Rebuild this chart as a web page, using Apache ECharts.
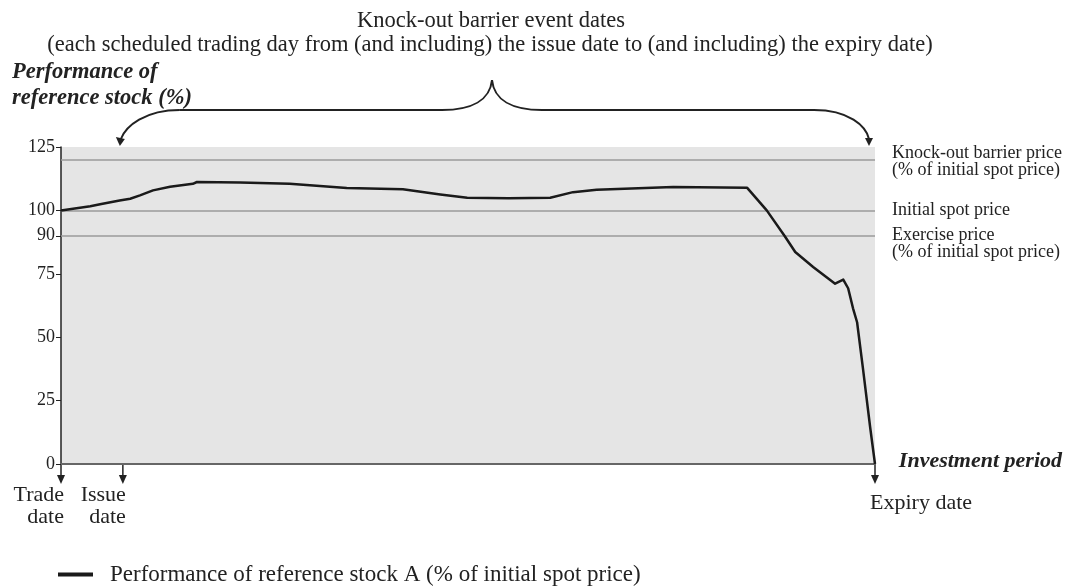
<!DOCTYPE html>
<html><head><meta charset="utf-8">
<script src="https://cdn.jsdelivr.net/npm/echarts@6/dist/echarts.min.js"></script>
<style>html,body{margin:0;padding:0;background:#fff}#c{width:1068px;height:586px}</style>
</head><body><div id="c"></div>
<script>
// Investment period position (0 = trade date, 100 = expiry date)
const dayIdx = [0, 3.6, 4.8, 7.2, 8.5, 9.7, 11.3, 13.4, 16.2, 16.7, 22, 28.1, 35.1, 42.0, 46.6, 49.9, 55, 60.1, 62.9, 65.8, 75.2, 84.3, 86.7, 88.9, 90.2, 92.4, 95.1, 96.1, 96.7, 97.3, 97.8, 98.5, 99.4, 100];
// Performance of reference stock A (% of initial spot price)
const perfA = [100.0, 101.6, 102.4, 103.9, 104.6, 105.9, 107.9, 109.3, 110.5, 111.2, 111.0, 110.5, 108.8, 108.3, 106.3, 105.0, 104.8, 105.0, 107.2, 108.1, 109.2, 108.9, 100.0, 89.9, 83.6, 77.7, 71.1, 72.7, 69.3, 61.4, 55.9, 38.2, 14.6, 0];
const yTicks = [0, 25, 50, 75, 90, 100, 120, 125];
const refLevels = [120, 100, 90];
const refLabels = ['Knock-out barrier price\n(% of initial spot price)', 'Initial spot price', 'Exercise price\n(% of initial spot price)'];
const dateMarks = [0, 7.6, 100];
const dateLabels = ['Trade\ndate', 'Issue\ndate', 'Expiry date'];
const seriesName = 'Performance of reference stock A (% of initial spot price)';

const FONT = 'Liberation Serif';
const chart = echarts.init(document.getElementById('c'), null, {renderer: 'canvas'});
const refOffsets = [[0, 2], [0, 0], [0, 8]];

chart.setOption({
  animation: false,
  backgroundColor: '#fff',
  textStyle: {fontFamily: FONT},
  grid: {left: 61, right: 193, top: 147, bottom: 122, show: true, backgroundColor: '#e5e5e5', borderWidth: 0},
  xAxis: {
    type: 'value', min: 0, max: 100,
    axisLine: {show: true, lineStyle: {color: '#666', width: 2}},
    axisTick: {show: false}, axisLabel: {show: false}, splitLine: {show: false}
  },
  yAxis: {
    type: 'value', min: 0, max: 125, interval: 5,
    axisLine: {show: true, lineStyle: {color: '#222', width: 1.5}},
    axisTick: {show: true, length: 5, lineStyle: {color: '#222'}, customValues: yTicks},
    axisLabel: {color: '#222', fontSize: 18, fontFamily: FONT, margin: 6, customValues: yTicks, showMaxLabel: true, showMinLabel: true, hideOverlap: false},
    splitLine: {show: false}
  },
  legend: {
    left: 58, top: 563, padding: 0, icon: 'rect', itemWidth: 35, itemHeight: 4, itemGap: 12,
    textStyle: {fontFamily: FONT, fontSize: 23, color: '#222', padding: [0, 0, 0, 12]},
    data: [seriesName]
  },
  series: [{
    name: seriesName, type: 'line', showSymbol: false, symbol: 'none',
    smooth: false,
    lineStyle: {color: '#1a1a1a', width: 2.5, join: 'round'}, itemStyle: {color: '#1a1a1a'},
    data: dayIdx.map((d, i) => [d, perfA[i]]),
    z: 5,
    markLine: {
      silent: true, symbol: 'none', z: 2,
      lineStyle: {color: '#9a9a9a', width: 1.5, type: 'solid'},
      label: {position: 'end', distance: 17, color: '#222', fontFamily: FONT, fontSize: 18, lineHeight: 17, align: 'left'},
      data: refLevels.map((v, i) => ({yAxis: v, label: {formatter: refLabels[i], offset: refOffsets[i]}}))
    }
  }]
});

function drawDecor() {
  const p = (x, y) => chart.convertToPixel({gridIndex: 0}, [x, y]);
  const g = [];
  const y0 = p(0, 0)[1];
  const yTop = p(0, 125)[1];
  const stroke = {stroke: '#222', lineWidth: 2, fill: null};
  // date arrows under the x axis
  dateMarks.forEach((d, i) => {
    const x = p(d, 0)[0];
    g.push({type: 'line', shape: {x1: x, y1: y0, x2: x, y2: y0 + 12}, style: {stroke: '#222', lineWidth: 1.5}});
    g.push({type: 'polygon', shape: {points: [[x - 4, y0 + 11], [x + 4, y0 + 11], [x, y0 + 20]]}, style: {fill: '#222'}});
    if (i < 2) {
      g.push({type: 'text', x: x + 3, y: y0 + 20, style: {text: dateLabels[i], font: '22px ' + FONT, fill: '#222', align: 'right', verticalAlign: 'top', lineHeight: 22}});
    } else {
      g.push({type: 'text', x: x - 5, y: y0 + 28, style: {text: dateLabels[i], font: '22px ' + FONT, fill: '#222', align: 'left', verticalAlign: 'top'}});
    }
  });
  // brace with arrows to issue date and expiry date
  const xl = p(dateMarks[1], 125)[0] - 3;
  const xr = p(dateMarks[2], 125)[0] - 6;
  const cx = 492, cy = 80, hy = 110;
  const tipY = yTop - 1;
  g.push({type: 'bezierCurve', shape: {x1: cx, y1: cy, cpx1: cx - 2, cpy1: cy + 20, cpx2: cx - 20, cpy2: hy, x2: cx - 50, y2: hy}, style: stroke});
  g.push({type: 'line', shape: {x1: cx - 50, y1: hy, x2: xl + 60, y2: hy}, style: stroke});
  g.push({type: 'bezierCurve', shape: {x1: xl + 60, y1: hy, cpx1: xl + 25, cpy1: hy, cpx2: xl + 6, cpy2: hy + 16, x2: xl + 1, y2: tipY - 7}, style: stroke});
  g.push({type: 'bezierCurve', shape: {x1: cx, y1: cy, cpx1: cx + 2, cpy1: cy + 20, cpx2: cx + 20, cpy2: hy, x2: cx + 50, y2: hy}, style: stroke});
  g.push({type: 'line', shape: {x1: cx + 50, y1: hy, x2: xr - 55, y2: hy}, style: stroke});
  g.push({type: 'bezierCurve', shape: {x1: xr - 55, y1: hy, cpx1: xr - 20, cpy1: hy, cpx2: xr - 3, cpy2: hy + 16, x2: xr, y2: tipY - 7}, style: stroke});
  g.push({type: 'polygon', shape: {points: [[xl - 4, tipY - 9], [xl + 5, tipY - 7], [xl, tipY]]}, style: {fill: '#222'}});
  g.push({type: 'polygon', shape: {points: [[xr - 4, tipY - 8], [xr + 4, tipY - 8], [xr, tipY]]}, style: {fill: '#222'}});
  // header texts
  g.push({type: 'text', x: 491, y: 21, style: {text: 'Knock-out barrier event dates', font: '22.5px ' + FONT, fill: '#222', align: 'center', verticalAlign: 'middle'}});
  g.push({type: 'text', x: 490, y: 45, style: {text: '(each scheduled trading day from (and including) the issue date to (and including) the expiry date)', font: '22.5px ' + FONT, fill: '#222', align: 'center', verticalAlign: 'middle'}});
  g.push({type: 'text', x: 12, y: 59, style: {text: 'Performance of\nreference stock (%)', font: 'italic bold 22.5px ' + FONT, fill: '#222', align: 'left', verticalAlign: 'top', lineHeight: 26}});
  g.push({type: 'text', x: 1062, y: y0 - 3, style: {text: 'Investment period', font: 'italic bold 22px ' + FONT, fill: '#222', align: 'right', verticalAlign: 'middle'}});
  chart.setOption({graphic: g});
}
drawDecor();
</script></body></html>
